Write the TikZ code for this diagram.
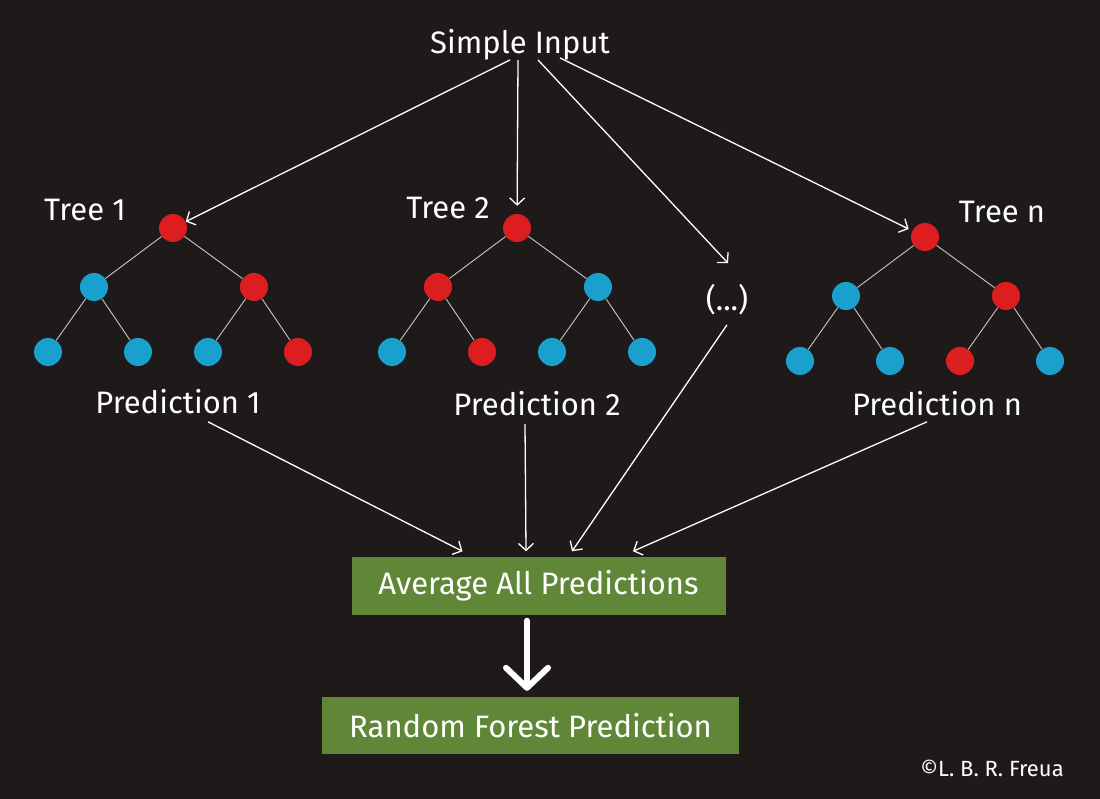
\documentclass[tikz,border=0pt]{standalone}
\usepackage{fontspec}
\setmainfont{Fira Sans}
\usepackage{tikz}
\usetikzlibrary{arrows.meta}
\definecolor{forestback}{RGB}{30,26,26}
\definecolor{leafred}{RGB}{221,30,32}
\definecolor{leafblue}{RGB}{25,160,204}
\definecolor{forestgreen}{RGB}{95,135,55}
\tikzset{
  redleaf/.style={circle,fill=leafred,minimum size=28pt,inner sep=0pt},
  blueleaf/.style={circle,fill=leafblue,minimum size=28pt,inner sep=0pt},
  branch/.style={draw=white!78!black,line width=0.9pt},
  handtext/.style={text=white,font=\fontsize{31}{35}\selectfont},
  greenbox/.style={fill=forestgreen,text=white,font=\fontsize{31}{35}\selectfont,inner sep=0pt},
  flow/.style={draw=white,line width=1.3pt,-{Straight Barb[length=7pt,width=15pt]}},
  bigflow/.style={draw=white,line width=6pt,line cap=round,-{Straight Barb[length=20pt,width=42pt,round]}}
}

\begin{document}
\begin{tikzpicture}[x=1pt,y=-1pt]
\fill[forestback] (0,0) rectangle (1100,799);
\useasboundingbox (0,0) rectangle (1100,799);

\node [handtext] (input) at (520,45) {Simple Input};

\node [handtext] (tree1) at (85,210) {Tree 1};
\node [redleaf] (t1r) at (173,228) {};
\node [blueleaf] (t1a) at (94,287) {};
\node [redleaf] (t1b) at (254,287) {};
\node [blueleaf] (t1aa) at (48,352) {};
\node [blueleaf] (t1ab) at (138,352) {};
\node [blueleaf] (t1ba) at (208,352) {};
\node [redleaf] (t1bb) at (298,352) {};
\draw [branch] (t1r) -- (t1a) (t1r) -- (t1b) (t1a) -- (t1aa) (t1a) -- (t1ab) (t1b) -- (t1ba) (t1b) -- (t1bb);

\node [handtext] (tree2) at (448,208) {Tree 2};
\node [redleaf] (t2r) at (517,228) {};
\node [redleaf] (t2a) at (438,287) {};
\node [blueleaf] (t2b) at (598,287) {};
\node [blueleaf] (t2aa) at (392,352) {};
\node [redleaf] (t2ab) at (482,352) {};
\node [blueleaf] (t2ba) at (552,352) {};
\node [blueleaf] (t2bb) at (642,352) {};
\draw [branch] (t2r) -- (t2a) (t2r) -- (t2b) (t2a) -- (t2aa) (t2a) -- (t2ab) (t2b) -- (t2ba) (t2b) -- (t2bb);

\node [handtext] (dots) at (727,300) {(...)};

\node [handtext] (treen) at (1002,212) {Tree n};
\node [redleaf] (tnr) at (925,237) {};
\node [blueleaf] (tna) at (846,296) {};
\node [redleaf] (tnb) at (1006,296) {};
\node [blueleaf] (tnaa) at (800,361) {};
\node [blueleaf] (tnab) at (890,361) {};
\node [redleaf] (tnba) at (960,361) {};
\node [blueleaf] (tnbb) at (1050,361) {};
\draw [branch] (tnr) -- (tna) (tnr) -- (tnb) (tna) -- (tnaa) (tna) -- (tnab) (tnb) -- (tnba) (tnb) -- (tnbb);

\node [handtext] (pred1) at (178,402) {Prediction 1};
\node [handtext] (pred2) at (537,404) {Prediction 2};
\node [handtext] (predn) at (937,404) {Prediction n};

\node [greenbox,minimum width=374pt,minimum height=58pt] (avg) at (538.5,585.5) {Average All Predictions};
\node [greenbox,minimum width=417pt,minimum height=57pt] (rf) at (530.5,725.5) {Random Forest Prediction};

\node [text=white,font=\fontsize{22}{26}\selectfont] (copy) at (992,768) {©L. B. R. Freua};

\draw [flow] ([xshift=-10pt,yshift=4pt]input.south) -- (t1r);
\draw [flow,shorten >=8pt] ([xshift=-2pt,yshift=4pt]input.south) -- (t2r);
\draw [flow] ([xshift=18pt,yshift=4pt]input.south) -- ([xshift=1pt,yshift=18pt]dots.north);
\draw [flow,shorten >=4pt] ([xshift=40pt,yshift=6pt]input.south) -- (tnr);

\draw [flow] ([xshift=30pt,yshift=-4pt]pred1.south) -- ([xshift=-76pt,yshift=5pt]avg.north);
\draw [flow] ([xshift=-12pt,yshift=-4pt]pred2.south) -- ([xshift=-12.5pt,yshift=5pt]avg.north);
\draw [flow] ([yshift=-6pt]dots.south) -- ([xshift=33.5pt,yshift=5pt]avg.north);
\draw [flow] ([xshift=-10pt,yshift=-2pt]predn.south) -- ([xshift=94.5pt,yshift=5pt]avg.north);

\draw [bigflow] ([xshift=-11.5pt,yshift=-6pt]avg.south) -- ([xshift=-3.5pt,yshift=6pt]rf.north);
\end{tikzpicture}
\end{document}
